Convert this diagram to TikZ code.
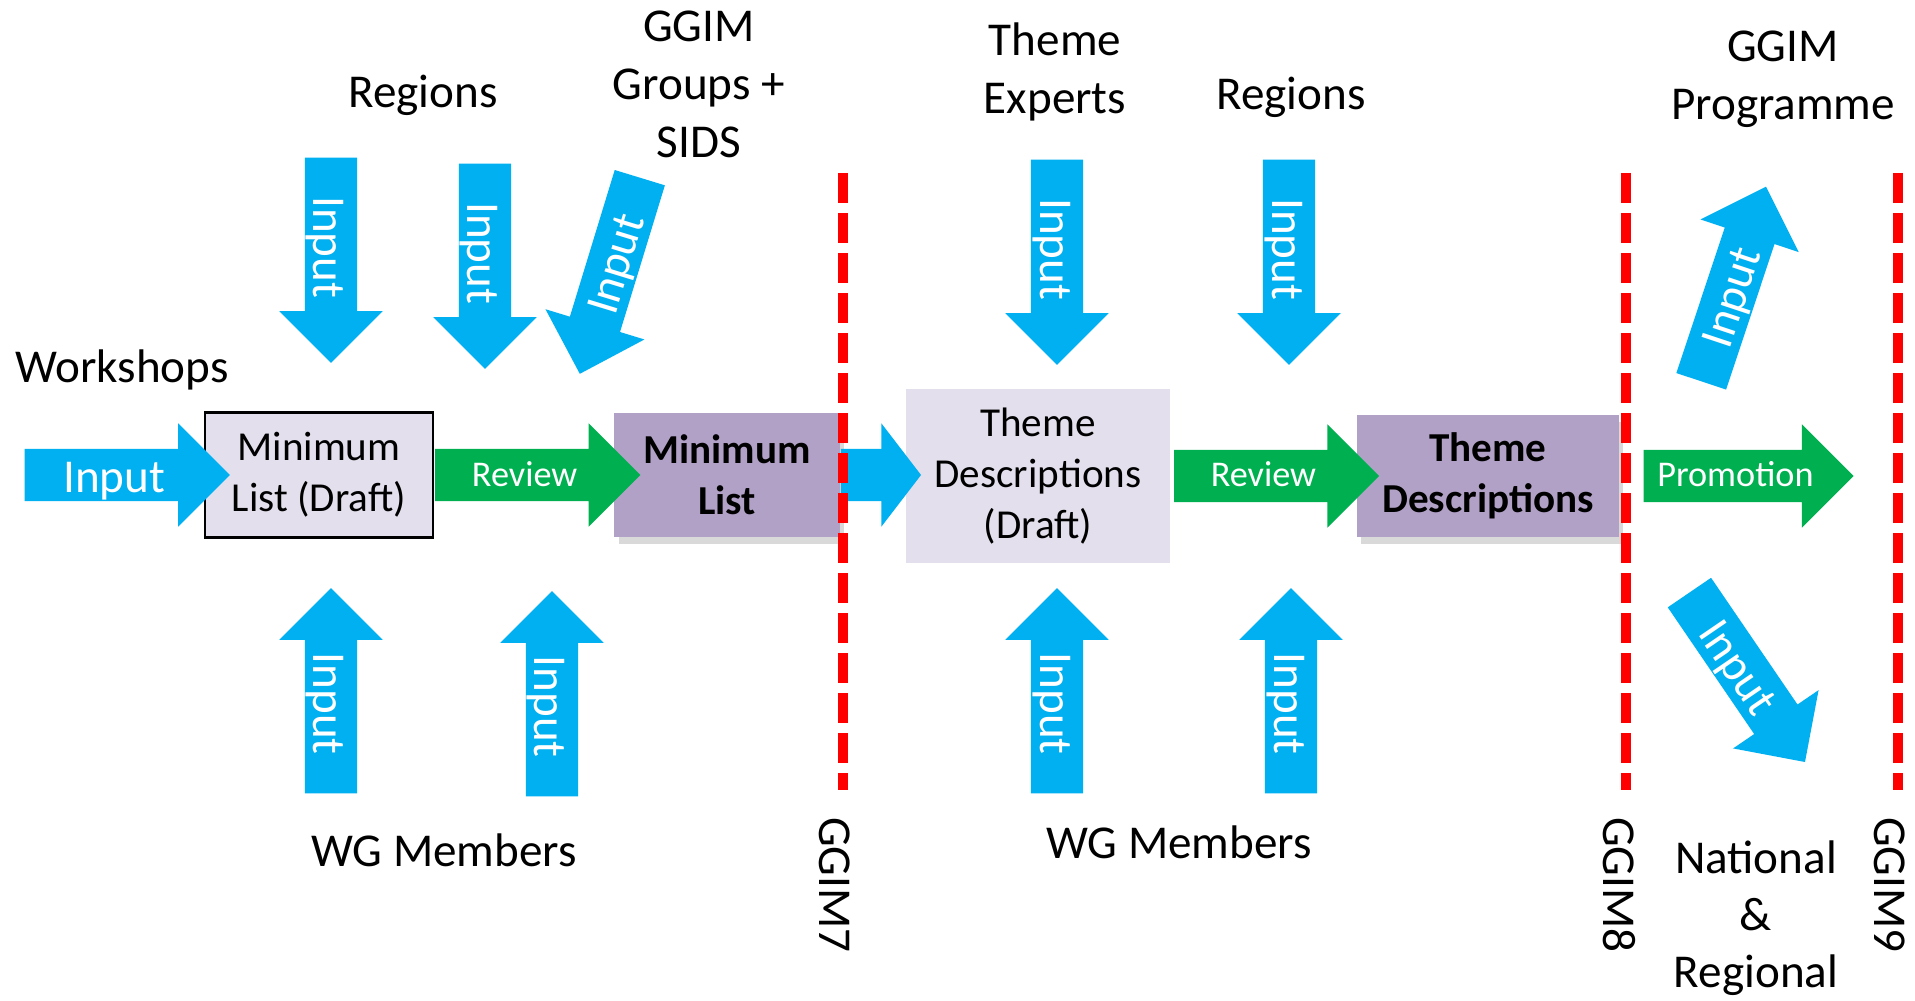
\documentclass[tikz,border=0pt]{standalone}
\usepackage{fontspec}
\setmainfont{Carlito}
\usepackage{tikz}
\usetikzlibrary{shapes.arrows,shadows}

\definecolor{inblue}{HTML}{00B0F0}
\definecolor{revgreen}{HTML}{00B050}
\definecolor{listpurple}{HTML}{B2A1C7}
\definecolor{draftlilac}{HTML}{E4DFEC}
\definecolor{gatered}{HTML}{FF0000}

\begin{document}
\begin{tikzpicture}[x=0.01cm,y=-0.01cm,
		lbl/.style={font=\fontsize{13.4}{16.5}\selectfont, inner sep=0pt, align=center},
		box/.style={font=\fontsize{11.7}{14.5}\selectfont, inner sep=0pt, align=center},
		draftbox/.style={box, fill=draftlilac},
		finalbox/.style={box, fill=listpurple, font=\fontsize{11.7}{14.5}\selectfont\bfseries,
			drop shadow={shadow xshift=1.2pt, shadow yshift=-2pt, opacity=0.3}},
		arr/.style={single arrow, single arrow head extend=0.255cm, single arrow head indent=0pt,
			single arrow tip angle=90, inner ysep=0pt, inner xsep=-0.15cm, minimum height=2.05cm, text=white},
		inarrow/.style={arr, fill=inblue, font=\fontsize{13.4}{16}\selectfont, text height=0.425cm, text depth=0.085cm},
		backarrow/.style={arr, fill=inblue, font=\fontsize{13.4}{16}\selectfont, text height=0.425cm, text depth=0.085cm,
			shape border rotate=180},
		revarrow/.style={arr, fill=revgreen, font=\fontsize{10.3}{12}\selectfont, text height=0.365cm, text depth=0.145cm},
		linkarrow/.style={single arrow, fill=inblue, single arrow head extend=0.255cm, single arrow head indent=0pt,
			single arrow tip angle=105, inner sep=0pt, text height=0.255cm, text depth=0.255cm, minimum height=0.8cm},
		gate/.style={gatered, line width=2.7pt, dash pattern=on 0.3cm off 0.1cm}]
	\useasboundingbox (0,0) rectangle (1915,1001);

	% boxes
	\node[draftbox, draw=black, line width=0.8pt, minimum width=2.28cm, minimum height=1.25cm] at (319,475) (mindraft){Minimum\\List (Draft)};
	\node[finalbox, minimum width=2.25cm, minimum height=1.24cm] at (727,475) (minlist){Minimum\\List};
	\node[draftbox, minimum width=2.63cm, minimum height=1.74cm] at (1038,476) (themedraft){Theme\\Descriptions\\(Draft)};
	\node[finalbox, minimum width=2.62cm, minimum height=1.22cm] at (1488,476) (themedesc){Theme\\Descriptions};

	% flow along the middle
	\node[inarrow, anchor=tail] at (24,475) (workin){Input};
	\node[revarrow, anchor=tail] at (mindraft.east) (review1){Review};
	\node[linkarrow, anchor=tail] at (minlist.east) (link){};
	\node[revarrow, anchor=tail, xshift=0.03cm] at (themedraft.east) (review2){Review};
	\node[revarrow, anchor=tail, xshift=0.23cm, minimum height=2.1cm] at (themedesc.east) (promo){Promotion};

	% inputs from above
	\node[inarrow, anchor=tail, rotate=-90] at (331,157) (reg1in){Input};
	\node[inarrow, anchor=tail, rotate=-90] at (485,163) (reg2in){Input};
	\node[backarrow, anchor=tail, rotate=73] at (640,177) (sidsin){Input};
	\node[inarrow, anchor=tail, rotate=-90] at (1057,159) (expin){Input};
	\node[inarrow, anchor=tail, rotate=-90] at (1289,159) (reg3in){Input};

	% inputs from below
	\node[backarrow, anchor=tail, rotate=-90] at (331,794) (wg1in){Input};
	\node[backarrow, anchor=tail, rotate=-90] at (552,797) (wg2in){Input};
	\node[backarrow, anchor=tail, rotate=-90] at (1057,794) (wg3in){Input};
	\node[backarrow, anchor=tail, rotate=-90] at (1291,794) (wg4in){Input};

	% after GGIM8
	\node[inarrow, anchor=tail, rotate=71.6] at (1701,382) (progin){Input};
	\node[inarrow, anchor=tail, rotate=-55.7] at (1689,592) (natin){Input};

	% labels
	\node[lbl, anchor=base] at (122,383) (workshops){Workshops};
	\node[lbl, anchor=base] at (423,108) (regions1){Regions};
	\node[lbl, anchor=north] at (699,10) (groups){GGIM\\Groups +\\SIDS};
	\node[lbl, anchor=north] at (1055,22) (experts){Theme\\Experts};
	\node[lbl, anchor=base] at (1291,110) (regions2){Regions};
	\node[lbl, anchor=north] at (1783,30) (programme){GGIM\\Programme};
	\node[lbl, anchor=base] at (444,867) (members1){WG Members};
	\node[lbl, anchor=base] at (1179,859) (members2){WG Members};
	\node[lbl, anchor=north, font=\fontsize{13.4}{16.2}\selectfont] at (1756,840) (national){National\\\&\\Regional};

	% sessions
	\coordinate (g7a) at (843,173);
	\coordinate (g7b) at (843,790);
	\coordinate (g8a) at (1626,173);
	\coordinate (g8b) at (1626,790);
	\coordinate (g9a) at (1898,173);
	\coordinate (g9b) at (1898,790);
	\draw[gate] (g7a) -- (g7b);
	\draw[gate] (g8a) -- (g8b);
	\draw[gate] (g9a) -- (g9b);
	\node[lbl, rotate=-90] at (835,885) (ggim7){GGIM7};
	\node[lbl, rotate=-90] at (1619,885) (ggim8){GGIM8};
	\node[lbl, rotate=-90] at (1890,885) (ggim9){GGIM9};
\end{tikzpicture}
\end{document}
